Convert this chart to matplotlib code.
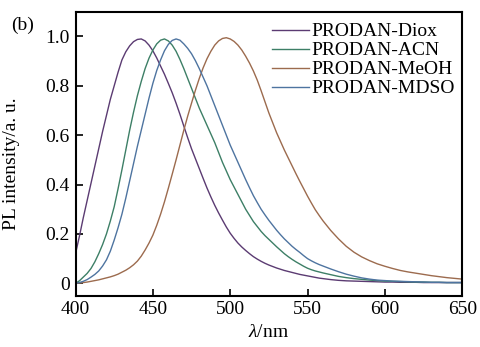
import matplotlib
matplotlib.use("Agg")
import matplotlib.pyplot as plt
import numpy as np
from matplotlib.ticker import FuncFormatter

plt.rcParams['font.family'] = ['Liberation Serif', 'DejaVu Serif']
plt.rcParams['mathtext.fontset'] = 'custom'
plt.rcParams['mathtext.rm'] = 'Liberation Serif'
plt.rcParams['mathtext.it'] = 'Liberation Serif:italic'

# wavelength (nm): 2.5 nm steps up to 560, then 5 nm steps in the tails
wavelength = np.concatenate([np.arange(400, 560.1, 2.5), np.arange(565, 651, 5)])

# normalised PL intensity
diox = [0.12, 0.19, 0.265, 0.335, 0.405, 0.475, 0.545, 0.615, 0.68, 0.745,
        0.80, 0.855, 0.905, 0.938, 0.962, 0.979, 0.988, 0.99, 0.982, 0.965,
        0.942, 0.913, 0.88, 0.847, 0.81, 0.772, 0.73, 0.685, 0.637, 0.59,
        0.545, 0.505, 0.465, 0.425, 0.386, 0.35, 0.316, 0.285, 0.256, 0.228,
        0.203, 0.182, 0.163, 0.147, 0.133, 0.12, 0.108, 0.098, 0.089, 0.081,
        0.074, 0.068, 0.062, 0.057, 0.052, 0.048, 0.044, 0.04, 0.036, 0.033,
        0.03, 0.027, 0.024, 0.021, 0.019,
        0.015, 0.012, 0.01, 0.009, 0.008, 0.007, 0.006, 0.005, 0.005, 0.004,
        0.004, 0.004, 0.003, 0.003, 0.003, 0.003, 0.003, 0.003]

acn = [0.0, 0.01, 0.025, 0.04, 0.06, 0.087, 0.12, 0.157, 0.20, 0.252,
       0.31, 0.383, 0.46, 0.54, 0.62, 0.693, 0.76, 0.818, 0.87, 0.912,
       0.945, 0.97, 0.985, 0.99, 0.982, 0.965, 0.94, 0.907, 0.87, 0.83,
       0.79, 0.75, 0.71, 0.675, 0.64, 0.605, 0.57, 0.53, 0.49, 0.455,
       0.42, 0.39, 0.36, 0.33, 0.30, 0.275, 0.25, 0.23, 0.21, 0.193,
       0.178, 0.163, 0.148, 0.134, 0.12, 0.108, 0.097, 0.087, 0.078, 0.069,
       0.061, 0.055, 0.05, 0.046, 0.042,
       0.035, 0.028, 0.023, 0.019, 0.016, 0.013, 0.011, 0.009, 0.008, 0.007,
       0.006, 0.005, 0.005, 0.004, 0.004, 0.003, 0.003, 0.003]

meoh = [0.0, 0.001, 0.003, 0.005, 0.008, 0.011, 0.014, 0.018, 0.022, 0.026,
        0.031, 0.037, 0.045, 0.053, 0.063, 0.075, 0.09, 0.11, 0.135, 0.163,
        0.195, 0.235, 0.28, 0.33, 0.385, 0.442, 0.50, 0.56, 0.62, 0.677,
        0.73, 0.782, 0.83, 0.873, 0.91, 0.94, 0.965, 0.982, 0.992, 0.995,
        0.99, 0.98, 0.965, 0.945, 0.92, 0.892, 0.86, 0.823, 0.78, 0.735,
        0.69, 0.65, 0.61, 0.575, 0.54, 0.508, 0.476, 0.444, 0.413, 0.383,
        0.353, 0.325, 0.298, 0.275, 0.253,
        0.214, 0.18, 0.15, 0.126, 0.107, 0.092, 0.079, 0.069, 0.06, 0.052,
        0.046, 0.041, 0.036, 0.031, 0.027, 0.023, 0.02, 0.017]

mdso = [0.0, 0.003, 0.008, 0.015, 0.025, 0.036, 0.05, 0.07, 0.095, 0.13,
        0.175, 0.225, 0.28, 0.345, 0.415, 0.485, 0.555, 0.62, 0.685, 0.75,
        0.81, 0.862, 0.905, 0.942, 0.968, 0.984, 0.99, 0.985, 0.97, 0.952,
        0.93, 0.902, 0.87, 0.835, 0.80, 0.76, 0.72, 0.68, 0.64, 0.60,
        0.56, 0.525, 0.49, 0.455, 0.42, 0.387, 0.355, 0.327, 0.30, 0.277,
        0.255, 0.235, 0.215, 0.197, 0.18, 0.165, 0.15, 0.137, 0.125, 0.112,
        0.10, 0.091, 0.083, 0.076, 0.07,
        0.058, 0.047, 0.037, 0.029, 0.022, 0.017, 0.013, 0.011, 0.009, 0.008,
        0.007, 0.006, 0.005, 0.004, 0.004, 0.003, 0.003, 0.003]

labels = ['PRODAN-Diox', 'PRODAN-ACN', 'PRODAN-MeOH', 'PRODAN-MDSO']
colors = ['#5b3b72', '#3d7f66', '#9c6b4e', '#4e74a0']

fig = plt.figure(figsize=(4.81, 3.47), dpi=100)
ax = fig.add_axes([0.157, 0.148, 0.804, 0.818])

for y, lab, c in zip([diox, acn, meoh, mdso], labels, colors):
    ax.plot(wavelength, y, color=c, lw=1.0, label=lab)

ax.set_xlim(400, 650)
ax.set_ylim(-0.05, 1.1)
ax.set_xticks([400, 450, 500, 550, 600, 650])
ax.set_yticks([0, 0.2, 0.4, 0.6, 0.8, 1.0])
ax.yaxis.set_major_formatter(FuncFormatter(lambda v, p: '0' if abs(v) < 1e-9 else '%.1f' % v))
ax.tick_params(direction='in', length=5, width=1.2, labelsize=14, pad=4)
for s in ax.spines.values():
    s.set_linewidth(1.5)

ax.set_xlabel(r'$\lambda$/nm', fontsize=14)
ax.set_ylabel('PL intensity/a. u.', fontsize=14)
ax.yaxis.set_label_coords(-0.144, 0.464)

ax.legend(loc='upper left', bbox_to_anchor=(0.497, 0.975), frameon=False,
          fontsize=14, handlelength=1.9, handletextpad=0.15,
          labelspacing=0.07, borderpad=0.2, borderaxespad=0)

fig.text(0.046, 0.928, '(b)', fontsize=14, ha='center', va='center')

fig.savefig('out.png', dpi=100)
